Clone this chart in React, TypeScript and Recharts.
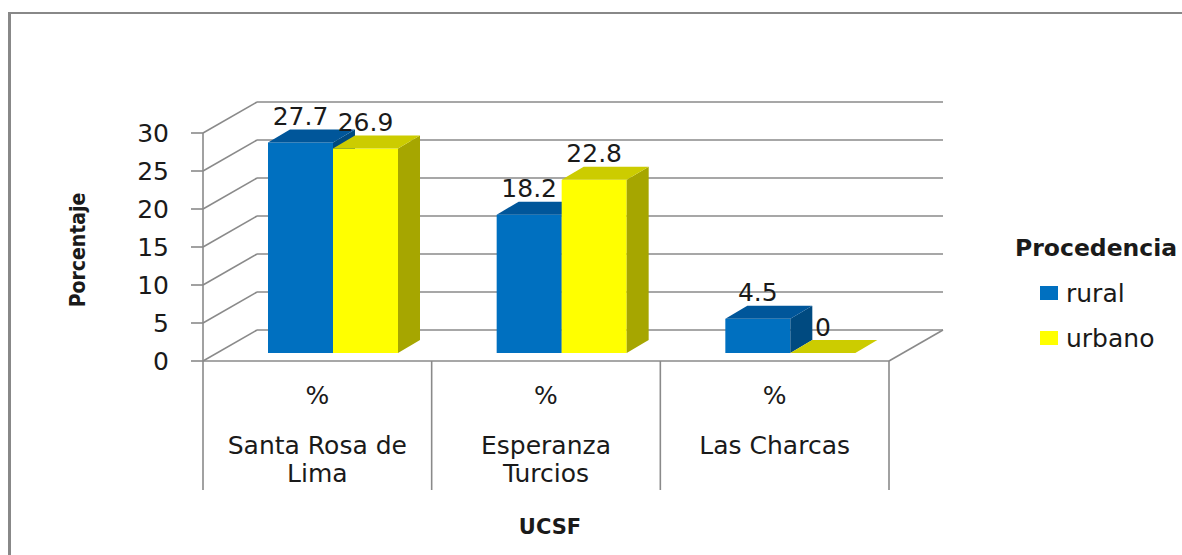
import { Bar, BarChart, CartesianGrid, LabelList, Legend, XAxis, YAxis } from "recharts";

// data
const categories = ["Santa Rosa de Lima", "Esperanza Turcios", "Las Charcas"];
const categoryLines = [["Santa Rosa de", "Lima"], ["Esperanza", "Turcios"], ["Las Charcas"]];
const unitLabel = "%";
const rural = [27.7, 18.2, 4.5];
const urbano = [26.9, 22.8, 0];
const yTicks = [0, 5, 10, 15, 20, 25, 30];

const data = categories.map((name, i) => ({
  name,
  rural: rural[i],
  urbano: urbano[i],
}));

// layout (bars sit on a plane a bit behind the front edge of the floor)
const W = 1182;
const H = 555;
const PLOT_L = 219;
const PLOT_R = 905;
const PLOT_T = 125;
const PLOT_B = 353;
const FRONT_DX = -16;
const FRONT_DY = 8;
const BACK_DX = 38;
const BACK_DY = -23;
const BAR_DX = 22;
const BAR_DY = 13;
const YAXIS_W = 60;
const XAXIS_H = 40;
const BAND = (PLOT_R - PLOT_L) / categories.length;
const AXIS_BOTTOM = 490;

const FONT = "'DejaVu Sans', sans-serif";
const GRID = "#8a8a8a";
const TEXT = "#1a1a1a";

const WallLine = (props: any) => {
  const { x1, x2, y1 } = props;
  const xf = x1 + FRONT_DX;
  const yf = y1 + FRONT_DY;
  const xb = x1 + BACK_DX;
  const yb = y1 + BACK_DY;
  const xr = x2 + BACK_DX;
  const isFloor = Math.abs(y1 - PLOT_B) < 1;
  return (
    <g key={`wall-${y1}`} stroke={GRID} strokeWidth={1.6} fill="none">
      <line x1={xf} y1={yf} x2={xb} y2={yb} />
      <line x1={xb} y1={yb} x2={xr} y2={yb} />
      {isFloor && (
        <>
          <line x1={xf} y1={yf} x2={x2 + FRONT_DX} y2={yf} />
          <line x1={x2 + FRONT_DX} y1={yf} x2={xr} y2={yb} />
        </>
      )}
    </g>
  );
};

const YTick = (props: any) => {
  const { y, payload } = props;
  const xf = PLOT_L + FRONT_DX;
  const yf = y + FRONT_DY;
  return (
    <g>
      <line x1={xf - 12} y1={yf} x2={xf} y2={yf} stroke={GRID} strokeWidth={1.6} />
      <text
        x={xf - 34}
        y={yf}
        textAnchor="end"
        dominantBaseline="central"
        fontFamily={FONT}
        fontSize={25}
        fill={TEXT}
      >
        {payload.value}
      </text>
    </g>
  );
};

const XTick = (props: any) => {
  const { x, index } = props;
  const cx = x + FRONT_DX;
  const yf = PLOT_B + FRONT_DY;
  const lines = categoryLines[index] || [];
  return (
    <g>
      {index === 0 && (
        <line
          x1={cx - BAND / 2}
          y1={PLOT_T + FRONT_DY}
          x2={cx - BAND / 2}
          y2={AXIS_BOTTOM}
          stroke={GRID}
          strokeWidth={1.6}
        />
      )}
      <line x1={cx + BAND / 2} y1={yf} x2={cx + BAND / 2} y2={AXIS_BOTTOM} stroke={GRID} strokeWidth={1.6} />
      <text x={cx} y={yf + 34} textAnchor="middle" dominantBaseline="central" fontFamily={FONT} fontSize={25} fill={TEXT}>
        {unitLabel}
      </text>
      {lines.map((ln, i) => (
        <text
          key={ln}
          x={cx}
          y={yf + 84 + i * 28}
          textAnchor="middle"
          dominantBaseline="central"
          fontFamily={FONT}
          fontSize={25}
          fill={TEXT}
        >
          {ln}
        </text>
      ))}
    </g>
  );
};

const makeBar3D = (front: string, top: string, side: string) => (props: any) => {
  const { x, y, width, height } = props;
  const h = Math.max(height || 0, 0);
  const x2 = x + width;
  const y2 = y + h;
  return (
    <g>
      {h > 0 && <rect x={x} y={y} width={width} height={h} fill={front} />}
      {h > 0 && (
        <polygon
          points={`${x2},${y} ${x2 + BAR_DX},${y - BAR_DY} ${x2 + BAR_DX},${y2 - BAR_DY} ${x2},${y2}`}
          fill={side}
        />
      )}
      <polygon
        points={`${x},${y} ${x + BAR_DX},${y - BAR_DY} ${x2 + BAR_DX},${y - BAR_DY} ${x2},${y}`}
        fill={top}
      />
    </g>
  );
};

const renderValue = (props: any) => {
  const { x, y, width, value } = props;
  return (
    <text
      x={x + width / 2}
      y={y - 26}
      textAnchor="middle"
      dominantBaseline="central"
      fontFamily={FONT}
      fontSize={25}
      fill={TEXT}
    >
      {value}
    </text>
  );
};

const renderLegend = (props: any) => {
  const { payload = [] } = props;
  return (
    <div style={{ fontFamily: FONT, color: TEXT }}>
      <div style={{ fontWeight: "bold", fontSize: 23.5, height: 30, lineHeight: "30px" }}>Procedencia</div>
      {payload.map((entry: any) => (
        <div
          key={entry.value}
          style={{ display: "flex", alignItems: "center", height: 30, marginTop: 15, marginLeft: 25, fontSize: 25 }}
        >
          <span style={{ display: "inline-block", width: 18, height: 14, background: entry.color, marginRight: 8 }} />
          <span>{entry.value}</span>
        </div>
      ))}
    </div>
  );
};

export default function App() {
  return (
    <div style={{ position: "absolute", left: 0, top: 0, width: W, height: H, background: "#fff" }}>
      <div
        style={{
          position: "absolute",
          left: 8,
          top: 12,
          width: W - 8,
          height: H - 12,
          borderLeft: "3px solid #888",
          borderTop: "2px solid #888",
          boxSizing: "border-box",
        }}
      />
      <BarChart
        width={W}
        height={H}
        data={data}
        barGap={0}
        barSize={65}
        margin={{
          top: PLOT_T,
          right: W - PLOT_R,
          bottom: H - PLOT_B - XAXIS_H,
          left: PLOT_L - YAXIS_W,
        }}
        style={{ position: "absolute", left: 0, top: 0 }}
      >
        <CartesianGrid vertical={false} horizontal={WallLine as any} />
        <XAxis
          dataKey="name"
          axisLine={false}
          tickLine={false}
          interval={0}
          height={XAXIS_H}
          tick={XTick}
          label={{
            content: () => (
              <text x={550} y={527} textAnchor="middle" dominantBaseline="central" fontFamily={FONT} fontWeight="bold" fontSize={21} fill={TEXT}>
                UCSF
              </text>
            ),
          }}
        />
        <YAxis
          domain={[0, 30]}
          ticks={yTicks}
          interval={0}
          axisLine={false}
          tickLine={false}
          width={YAXIS_W}
          tick={YTick}
          label={{
            content: () => (
              <text
                x={78}
                y={250}
                transform="rotate(-90 78 250)"
                textAnchor="middle"
                dominantBaseline="central"
                fontFamily="'DejaVu Sans Condensed', 'DejaVu Sans', sans-serif"
                fontStretch="condensed"
                fontWeight="bold"
                fontSize={21}
                fill={TEXT}
              >
                Porcentaje
              </text>
            ),
          }}
        />
        <Legend
          layout="horizontal"
          align="center"
          verticalAlign="middle"
          content={renderLegend}
          wrapperStyle={{ position: "absolute", left: 1015, top: 233, width: 170 }}
        />
        <Bar dataKey="rural" name="rural" fill="#0070C0" isAnimationActive={false} shape={makeBar3D("#0070C0", "#00569A", "#004A80")}>
          <LabelList dataKey="rural" content={renderValue} />
        </Bar>
        <Bar dataKey="urbano" name="urbano" fill="#FFFF00" isAnimationActive={false} shape={makeBar3D("#FFFF00", "#CCCC00", "#A6A600")}>
          <LabelList dataKey="urbano" content={renderValue} />
        </Bar>
      </BarChart>
    </div>
  );
}
